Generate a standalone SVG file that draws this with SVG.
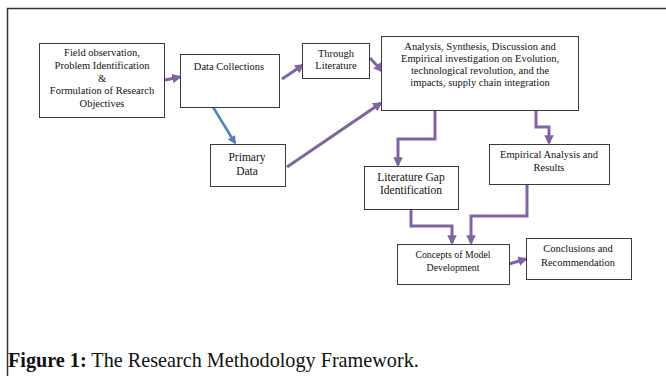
<svg xmlns="http://www.w3.org/2000/svg" width="666" height="376" viewBox="0 0 666 376">
<style>
.box{fill:#fff;stroke:#3a3a3a;stroke-width:1}
.t{font-family:'Liberation Serif','Times New Roman',serif;font-size:10.5px;fill:#111;text-anchor:middle}
.p{fill:none;stroke:#8064A2;stroke-width:3}
.b{fill:none;stroke:#4F81BD;stroke-width:2.5}
.cap{font-family:'Liberation Serif','Times New Roman',serif;font-size:20.2px;fill:#111}
</style>
<defs>
<marker id="ap" viewBox="0 0 10 10" refX="8" refY="5" markerWidth="3.2" markerHeight="3.2" orient="auto" markerUnits="strokeWidth">
<path d="M0,0L10,5L0,10z" fill="#8064A2"/>
</marker>
<marker id="ab" viewBox="0 0 10 10" refX="8" refY="5" markerWidth="3.4" markerHeight="3.4" orient="auto" markerUnits="strokeWidth">
<path d="M0,0L10,5L0,10z" fill="#4F81BD"/>
</marker>
</defs>
<rect width="666" height="376" fill="#fff"/>
<path d="M7.5,376V8.5H666" fill="none" stroke="#333" stroke-width="1.5"/>

<g id="connectors">
<path class="p" d="M165,80L180,77" marker-end="url(#ap)"/>
<path class="p" d="M282,79L303,65" marker-end="url(#ap)"/>
<path class="b" d="M213,107L235,143" marker-end="url(#ab)"/>
<path class="p" d="M287,167L381,103" marker-end="url(#ap)"/>
<path class="p" d="M370,58L382,71" marker-end="url(#ap)"/>
<path class="p" d="M435,110V139H398V165" marker-end="url(#ap)"/>
<path class="p" d="M536,110V127H549V143" marker-end="url(#ap)"/>
<path class="p" d="M411,209V226H452V243" marker-end="url(#ap)"/>
<path class="p" d="M527,184V216H471V243" marker-end="url(#ap)"/>
<path class="p" d="M509,264L526,259" marker-end="url(#ap)"/>
</g>

<g id="field">
<rect class="box" x="39.5" y="43.5" width="125" height="74"/>
<text class="t" x="102" y="56">Field observation,</text>
<text class="t" x="102" y="69">Problem Identification</text>
<text class="t" x="102" y="82">&amp;</text>
<text class="t" x="102" y="94">Formulation of Research</text>
<text class="t" x="102" y="107">Objectives</text>
</g>
<g id="datacollections">
<rect class="box" x="180.5" y="54.5" width="99" height="53"/>
<text class="t" x="229" y="70">Data Collections</text>
</g>
<g id="through">
<rect class="box" x="302.5" y="43.5" width="67" height="35"/>
<text class="t" x="336" y="57">Through</text>
<text class="t" x="336" y="69">Literature</text>
</g>
<g id="primary">
<rect class="box" x="210.5" y="144.5" width="75" height="42"/>
<text class="t" x="247" y="161" style="font-size:11.5px">Primary</text>
<text class="t" x="247" y="175" style="font-size:11.5px">Data</text>
</g>
<g id="analysis">
<rect class="box" x="381.5" y="36.5" width="197" height="74"/>
<text class="t" x="480" y="50">Analysis, Synthesis, Discussion and</text>
<text class="t" x="480" y="62">Empirical investigation on Evolution,</text>
<text class="t" x="480" y="74">technological revolution, and the</text>
<text class="t" x="480" y="86">impacts, supply chain integration</text>
</g>
<g id="litgap">
<rect class="box" x="364.5" y="166.5" width="94" height="43"/>
<text class="t" x="411" y="181" style="font-size:11.5px">Literature Gap</text>
<text class="t" x="411" y="194" style="font-size:11.5px">Identification</text>
</g>
<g id="empirical">
<rect class="box" x="489.5" y="144.5" width="120" height="40"/>
<text class="t" x="549" y="158">Empirical Analysis and</text>
<text class="t" x="549" y="171">Results</text>
</g>
<g id="concepts">
<rect class="box" x="397.5" y="244.5" width="112" height="40"/>
<text class="t" x="453" y="258" style="font-size:9.8px">Concepts of Model</text>
<text class="t" x="453" y="271" style="font-size:9.8px">Development</text>
</g>
<g id="conclusions">
<rect class="box" x="526.5" y="238.5" width="105" height="41"/>
<text class="t" x="578" y="252">Conclusions and</text>
<text class="t" x="578" y="266">Recommendation</text>
</g>
<text class="cap" x="8" y="367"><tspan font-weight="bold">Figure 1:</tspan> The Research Methodology Framework.</text>
</svg>
